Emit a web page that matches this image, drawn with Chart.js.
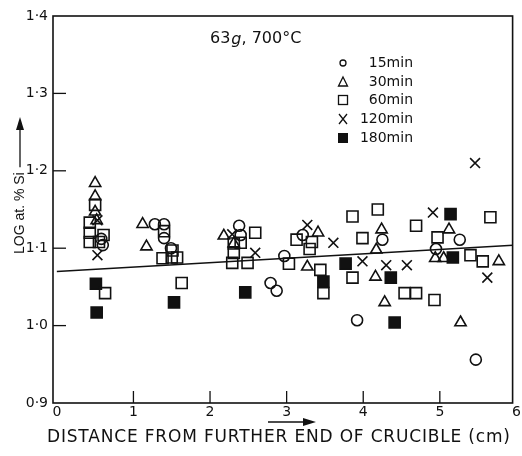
<!DOCTYPE html>
<html><head><meta charset="utf-8">
<script src="https://cdn.jsdelivr.net/npm/chart.js@4.4.0/dist/chart.umd.min.js"></script>
<style>html,body{margin:0;padding:0;background:#fff}</style>
</head><body>
<canvas id="c" width="522" height="456"></canvas>
<script>
// ---- data ----
const xTicks = [0, 1, 2, 3, 4, 5, 6];
const yTicks = [0.9, 1.0, 1.1, 1.2, 1.3, 1.4];

const min15X = [0.60, 0.58, 1.28, 1.40, 1.40, 1.49, 2.38, 2.40, 2.97, 2.79, 2.87, 3.21, 3.92, 4.25, 4.95, 5.26, 5.47];
const min15Y = [1.104, 1.112, 1.131, 1.131, 1.113, 1.100, 1.129, 1.117, 1.090, 1.055, 1.045, 1.117, 1.007, 1.111, 1.099, 1.111, 0.956];

const min30X = [0.50, 0.50, 0.50, 0.52, 1.12, 1.17, 2.18, 2.31, 3.41, 3.27, 4.24, 4.17, 4.16, 4.28, 5.12, 4.94, 5.05, 5.27, 5.77];
const min30Y = [1.184, 1.167, 1.147, 1.136, 1.131, 1.102, 1.116, 1.106, 1.120, 1.076, 1.124, 1.098, 1.063, 1.030, 1.124, 1.087, 1.087, 1.004, 1.083];

const min60X = [0.50, 0.43, 0.43, 0.61, 0.43, 0.55, 0.63, 1.40, 1.38, 1.51, 1.50, 1.57, 1.63,
                2.31, 2.40, 2.59, 2.31, 2.29, 2.49, 3.03, 3.13, 3.33, 3.30, 3.44, 3.48,
                3.86, 3.86, 4.19, 3.99, 4.54, 4.69, 4.93, 4.69, 4.97, 5.66, 5.40, 5.56];
const min60Y = [1.156, 1.133, 1.120, 1.117, 1.108, 1.108, 1.042, 1.122, 1.087, 1.097, 1.088, 1.088, 1.055,
                1.106, 1.107, 1.120, 1.094, 1.081, 1.081, 1.080, 1.111, 1.108, 1.099, 1.072, 1.042,
                1.141, 1.062, 1.150, 1.113, 1.042, 1.042, 1.033, 1.129, 1.114, 1.140, 1.091, 1.083];

const min120X = [0.53, 0.53, 2.29, 2.59, 3.27, 3.61, 3.99, 4.30, 4.57, 4.91, 5.62, 5.46];
const min120Y = [1.136, 1.091, 1.118, 1.094, 1.130, 1.107, 1.083, 1.078, 1.078, 1.146, 1.062, 1.210];

const min180X = [0.51, 0.52, 1.53, 2.46, 3.48, 3.77, 4.36, 4.41, 5.14, 5.17];
const min180Y = [1.054, 1.017, 1.030, 1.043, 1.057, 1.080, 1.062, 1.004, 1.144, 1.088];

const fitX = [0, 6];
const fitY = [1.070, 1.104];

const legendLabels = ['15min', '30min', '60min', '120min', '180min'];

// ---- build ----
const pts = (xs, ys) => xs.map((x, i) => ({x: x, y: ys[i]}));
const FONT = '"DejaVu Sans", sans-serif';
const FONT2 = '"Liberation Sans", Arial, sans-serif';
const dot = v => v.toFixed(1).replace('.', '\u00B7');

function sc(label, xs, ys, style, radius, fill) {
  return {type: 'scatter', label: label, data: pts(xs, ys), pointStyle: style,
    pointRadius: radius, pointHoverRadius: radius, pointBorderWidth: 1.6,
    pointBorderColor: '#111', pointBackgroundColor: fill ? '#111' : 'rgba(0,0,0,0)',
    borderColor: '#111', backgroundColor: fill ? '#111' : 'rgba(0,0,0,0)'};
}

function fitText(ctx, text, x, y, width) {
  const n = text.length;
  ctx.letterSpacing = '0px';
  const w = ctx.measureText(text).width;
  const ls = (width - w) / (n - 1);
  ctx.letterSpacing = ls + 'px';
  ctx.textAlign = 'left';
  ctx.fillText(text, x, y);
  ctx.letterSpacing = '0px';
}

const decor = {
  id: 'decor',
  afterDraw(chart) {
    const ctx = chart.ctx, a = chart.chartArea, xs = chart.scales.x, ys = chart.scales.y;
    ctx.save();
    ctx.strokeStyle = '#111'; ctx.fillStyle = '#111';
    ctx.lineWidth = 1.6;
    ctx.strokeRect(a.left, a.top, a.right - a.left, a.bottom - a.top);
    ctx.lineWidth = 1.3;
    xTicks.forEach(v => { if (v > 0 && v < 6) { const p = xs.getPixelForValue(v);
      ctx.beginPath(); ctx.moveTo(p, a.bottom); ctx.lineTo(p, a.bottom - 12); ctx.stroke(); }});
    yTicks.forEach(v => { if (v > 0.95 && v < 1.35) { const p = ys.getPixelForValue(v);
      ctx.beginPath(); ctx.moveTo(a.left, p); ctx.lineTo(a.left + 13, p); ctx.stroke(); }});
    // annotation
    ctx.textBaseline = 'middle'; ctx.textAlign = 'left';
    ctx.font = '16px ' + FONT;
    let x0 = 210;
    ctx.fillText('63', x0, 39); x0 += ctx.measureText('63').width + 1;
    ctx.font = 'italic 16px ' + FONT;
    ctx.fillText('g', x0, 40); x0 += ctx.measureText('g').width;
    ctx.font = '16px ' + FONT;
    ctx.fillText(', 700\u00B0C', x0, 39);
    // legend
    const rows = [63, 82, 100, 119, 138];
    ctx.font = '14px ' + FONT; ctx.textAlign = 'right';
    rows.forEach((y, i) => ctx.fillText(legendLabels[i], 413, y));
    ctx.lineWidth = 1.3;
    const sx = 343;
    ctx.beginPath(); ctx.arc(sx, rows[0], 3, 0, 2 * Math.PI); ctx.stroke();
    ctx.beginPath(); ctx.moveTo(sx, rows[1] - 5); ctx.lineTo(sx + 4.5, rows[1] + 4); ctx.lineTo(sx - 4.5, rows[1] + 4); ctx.closePath(); ctx.stroke();
    ctx.strokeRect(sx - 4.5, rows[2] - 4.5, 9, 9);
    ctx.beginPath(); ctx.moveTo(sx - 4, rows[3] - 5); ctx.lineTo(sx + 4, rows[3] + 5); ctx.moveTo(sx + 4, rows[3] - 5); ctx.lineTo(sx - 4, rows[3] + 5); ctx.stroke();
    ctx.fillRect(sx - 5, rows[4] - 5, 10, 10);
    // x title + arrow
    ctx.font = '17px ' + FONT;
    fitText(ctx, 'DISTANCE FROM FURTHER END OF CRUCIBLE (cm)', 47, 438, 463);
    ctx.lineWidth = 1.3;
    ctx.beginPath(); ctx.moveTo(268, 422); ctx.lineTo(305, 422); ctx.stroke();
    ctx.beginPath(); ctx.moveTo(316, 422); ctx.lineTo(303, 418); ctx.lineTo(303, 426); ctx.closePath(); ctx.fill();
    // y title + arrow
    ctx.translate(20, 0); ctx.rotate(-Math.PI / 2);
    ctx.textAlign = 'left'; ctx.font = '14px ' + FONT2;
    ctx.fillText('LOG at. % Si', -254, 0);
    const w = ctx.measureText('LOG at. % Si').width;
    const s0 = -254 + w + 5;
    ctx.beginPath(); ctx.moveTo(s0, 0); ctx.lineTo(-128, 0); ctx.stroke();
    ctx.beginPath(); ctx.moveTo(-117, 0); ctx.lineTo(-130, -4); ctx.lineTo(-130, 4); ctx.closePath(); ctx.fill();
    ctx.restore();
  }
};

new Chart(document.getElementById('c'), {
  data: {
    datasets: [
      {type: 'line', label: 'fit', data: pts(fitX, fitY), borderColor: '#111', borderWidth: 1.5,
       pointRadius: 0, fill: false, tension: 0},
      sc('15min', min15X, min15Y, 'circle', 5.5, false),
      sc('30min', min30X, min30Y, 'triangle', 6.5, false),
      sc('60min', min60X, min60Y, 'rect', 7.8, false),
      sc('120min', min120X, min120Y, 'crossRot', 7, false),
      sc('180min', min180X, min180Y, 'rect', 7.8, true)
    ]
  },
  options: {
    responsive: false, animation: false,
    layout: {padding: {top: 16, right: 6, left: 0, bottom: 0}},
    plugins: {legend: {display: false}, tooltip: {enabled: false}},
    scales: {
      x: {type: 'linear', min: -0.05, max: 5.95,
          afterBuildTicks: s => { s.ticks = xTicks.map(v => ({value: v})); },
          afterFit: s => { s.height = 53; },
          grid: {display: false, drawTicks: false}, border: {display: false},
          ticks: {color: '#111', font: {family: FONT, size: 14}, padding: 1, maxRotation: 0,
                  autoSkip: false, callback: v => String(v)}},
      y: {type: 'linear', min: 0.9, max: 1.4,
          afterBuildTicks: s => { s.ticks = yTicks.map(v => ({value: v})); },
          afterFit: s => { s.width = 53; },
          grid: {display: false, drawTicks: false}, border: {display: false},
          ticks: {color: '#111', font: {family: FONT, size: 14}, padding: 5,
                  callback: v => dot(v)}}
    }
  },
  plugins: [decor]
});
</script>
</body></html>
